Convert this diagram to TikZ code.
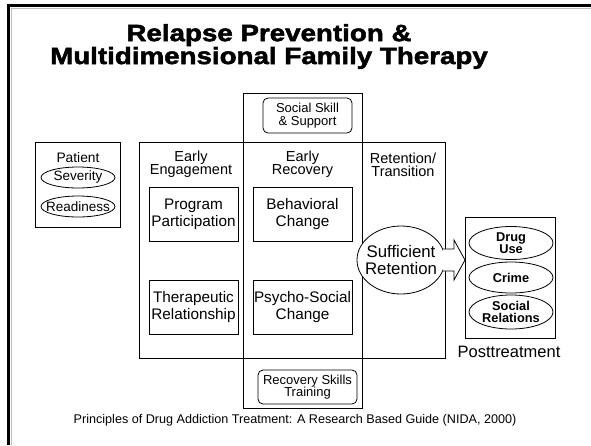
\documentclass[tikz,border=0pt]{standalone}
\usepackage{fontspec}
\setmainfont{Liberation Sans}
\newfontfamily\titlefont[FakeStretch=1.18,BoldFeatures={FakeBold=2.2}]{Liberation Sans}
\usetikzlibrary{shapes.geometric,calc}
\begin{document}
\begin{tikzpicture}[x=1pt,y=-1pt,
  every node/.style={inner sep=0pt, outer sep=0pt},
  ln/.style={line width=0.8pt},
  box/.style={draw, ln, align=center, font=\fontsize{15.3}{17}\selectfont},
  rbox/.style={draw, ln, rounded corners=5pt, align=center, font=\fontsize{13}{12.5}\selectfont},
  oval/.style={draw, ln, ellipse},
  otxt/.style={align=center},
  hdr/.style={align=center, font=\fontsize{14.5}{13.5}\selectfont},
  ttl/.style={align=center, font=\titlefont\bfseries\fontsize{23.5}{21}\selectfont}
]
\useasboundingbox (0,0) rectangle (591,445);
% slide frame
\draw[gray!50, line width=1pt] (11,445) -- (11,8) -- (591,8);
\draw[line width=3pt] (8.5,445) -- (8.5,5.5) -- (591,5.5);
% title
\node[ttl] (title) at (269,46.5) {Relapse Prevention \&\\Multidimensional Family Therapy};
% patient
\node[draw, ln, minimum width=85, minimum height=85] (pat) at (77.5,184.5) {};
\node[font=\fontsize{13.8}{14}\selectfont] (patl) at (78,157.5) {Patient};
\node[oval, minimum width=74, minimum height=21, label={[otxt,font=\fontsize{13.5}{13}\selectfont]center:Severity}] (sev) at (78,177.5) {};
\node[oval, minimum width=74, minimum height=21, label={[otxt,font=\fontsize{13.5}{13}\selectfont]center:Readiness}] (rea) at (78,206.5) {};
% main frames
\draw[ln] (139,142) rectangle (445,358);
\draw[ln] (243,93) rectangle (362,408);
% headers
\node[hdr] (ee) at (191,164) {Early\\Engagement};
\node[hdr] (er) at (302.5,164) {Early\\Recovery};
\node[hdr] (rt) at (403,165) {Retention/\\Transition};
% inner boxes
\node[box, minimum width=89, minimum height=54] (pp) at (193.5,214) {Program\\Participation};
\node[box, minimum width=89, minimum height=54] (tr) at (193.5,307) {Therapeutic\\Relationship};
\node[box, minimum width=99, minimum height=54] (bc) at (302.5,214) {Behavioral\\Change};
\node[box, minimum width=99, minimum height=54] (ps) at (302.5,307) {Psycho-Social\\Change};
\node[rbox, minimum width=89, minimum height=35] (ss) at (307.5,115.5) {Social Skill\\\& Support};
\node[rbox, minimum width=99, minimum height=34] (rs) at (307.5,387) {Recovery Skills\\Training};
% sufficient retention
\node[oval, fill=white, minimum width=88, minimum height=68, label={[otxt,font=\fontsize{16.8}{17.5}\selectfont]center:Sufficient\\Retention}] (sr) at (401,260) {};
% posttreatment
\node[draw, ln, minimum width=90, minimum height=121] (pt) at (510,277.5) {};
\node[oval, minimum width=84, minimum height=33, label={[otxt,font=\bfseries\fontsize{12.8}{11.5}\selectfont]center:Drug\\Use}] (du) at (511,243) {};
\node[oval, minimum width=84, minimum height=31, label={[otxt,font=\bfseries\fontsize{12.8}{11.5}\selectfont]center:Crime}] (cr) at (511,277.5) {};
\node[oval, minimum width=84, minimum height=34, label={[otxt,font=\bfseries\fontsize{12.8}{11.5}\selectfont]center:Social\\Relations}] (so) at (511,312) {};
\node[font=\fontsize{16.5}{16}\selectfont] (ptl) at (509,352) {Posttreatment};
% block arrow
\coordinate (a1) at ($(sr.east)+(-2,-11)$);
\coordinate (a2) at ($(sr.east)+(-2,11)$);
\coordinate (tip) at (pt.west |- sr.east);
\draw[ln, fill=white] (a1) -- (454,249) -- (454,240) -- (tip) -- (454,280) -- (454,271) -- (a2);
% footer
\node[font=\fontsize{12.6}{13}\selectfont] (ft) at (295,420) {Principles of Drug Addiction Treatment: A Research Based Guide (NIDA, 2000)};
\end{tikzpicture}
\end{document}
